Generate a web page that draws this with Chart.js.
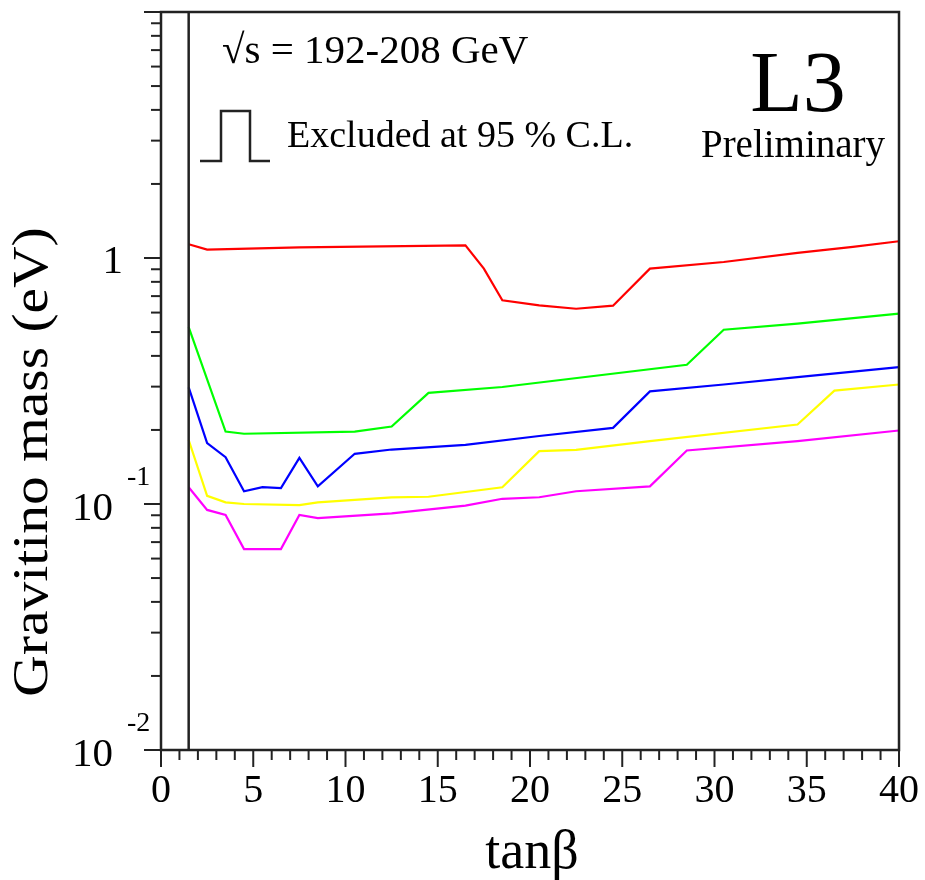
<!DOCTYPE html>
<html>
<head>
<meta charset="utf-8">
<script src="https://cdn.jsdelivr.net/npm/chart.js@4.4.1/dist/chart.umd.min.js"></script>
<style>
  html, body { margin: 0; padding: 0; background: #ffffff; }
  #wrap { width: 925px; height: 880px; }
</style>
</head>
<body>
<div id="wrap"><canvas id="c" width="925" height="880"></canvas></div>
<script>
// ---- data ----
const xTickLabels = [0, 5, 10, 15, 20, 25, 30, 35, 40];
const yDecades = [0.01, 0.1, 1];
const yDecadeLabels = [["10", "-2"], ["10", "-1"], ["1", ""]];

const tanbRed = [1.5, 2.5, 7.5, 16.5, 17.5, 18.5, 20.5, 22.5, 24.5, 26.5, 30.5, 34.5, 37.5, 40];
const massRed = [1.137, 1.082, 1.105, 1.126, 0.905, 0.673, 0.642, 0.622, 0.640, 0.905, 0.963, 1.05, 1.11, 1.17];

const tanbGreen = [1.5, 3.5, 4.5, 10.5, 12.5, 14.5, 18.5, 28.5, 30.5, 34.5, 40];
const massGreen = [0.524, 0.197, 0.193, 0.197, 0.2065, 0.283, 0.299, 0.368, 0.511, 0.541, 0.594];

const tanbBlue = [1.5, 2.5, 3.5, 4.5, 5.5, 6.5, 7.5, 8.5, 10.5, 12.5, 16.5, 20.5, 24.5, 26.5, 30.5, 34.5, 40];
const massBlue = [0.298, 0.177, 0.155, 0.1126, 0.117, 0.116, 0.154, 0.118, 0.160, 0.1665, 0.174, 0.189, 0.204, 0.287, 0.306, 0.328, 0.360];

const tanbYellow = [1.5, 2.5, 3.5, 4.5, 7.5, 8.5, 12.5, 14.5, 18.5, 20.5, 22.5, 26.5, 34.5, 36.5, 40];
const massYellow = [0.182, 0.108, 0.1016, 0.100, 0.099, 0.1016, 0.1064, 0.107, 0.117, 0.164, 0.166, 0.180, 0.2105, 0.289, 0.306];

const tanbMagenta = [1.5, 2.5, 3.5, 4.5, 6.5, 7.5, 8.5, 12.5, 16.5, 18.5, 20.5, 22.5, 26.5, 28.5, 34.5, 40];
const massMagenta = [0.117, 0.0946, 0.0902, 0.0656, 0.0656, 0.0902, 0.0877, 0.0916, 0.0985, 0.105, 0.1065, 0.1127, 0.118, 0.165, 0.180, 0.199];

const tanbLimit = 1.5;
const energyText = "\u221As = 192-208 GeV";
const legendText = "Excluded at 95 % C.L.";
const expText = "L3";
const prelimText = "Preliminary";
const xTitle = "tan\u03B2";
const yTitle = "Gravitino mass (eV)";

function pts(xs, ys) { return xs.map((x, i) => ({ x: x, y: ys[i] })); }

const FONT = '"Liberation Serif", "DejaVu Serif", serif';

const decorPlugin = {
  id: 'decor',
  beforeDraw(chart) {
    const ctx = chart.ctx;
    ctx.save();
    ctx.fillStyle = '#ffffff';
    ctx.fillRect(0, 0, chart.width, chart.height);
    ctx.restore();
  },
  afterDraw(chart) {
    const ctx = chart.ctx;
    const xs = chart.scales.x, ys = chart.scales.y;
    const a = chart.chartArea;
    ctx.save();
    ctx.strokeStyle = '#222222';
    ctx.fillStyle = '#000000';

    // frame
    ctx.lineWidth = 2.5;
    ctx.strokeRect(a.left, a.top, a.right - a.left, a.bottom - a.top);

    // vertical limit line
    const lx = xs.getPixelForValue(tanbLimit);
    ctx.beginPath(); ctx.moveTo(lx, a.top); ctx.lineTo(lx, a.bottom); ctx.stroke();

    // x ticks
    ctx.lineWidth = 2;
    for (let v = 0; v <= 40; v++) {
      const px = xs.getPixelForValue(v);
      const len = (v % 5 === 0) ? 17 : 10;
      ctx.beginPath(); ctx.moveTo(px, a.bottom); ctx.lineTo(px, a.bottom + len); ctx.stroke();
    }
    ctx.font = '40px ' + FONT;
    ctx.textAlign = 'center';
    ctx.textBaseline = 'alphabetic';
    xTickLabels.forEach(v => {
      ctx.fillText(String(v), xs.getPixelForValue(v), a.bottom + 52);
    });

    // y ticks (log)
    for (let d = -2; d <= 0; d++) {
      for (let m = 1; m <= 9; m++) {
        const val = m * Math.pow(10, d);
        const py = ys.getPixelForValue(val);
        const len = (m === 1) ? 17 : 10;
        ctx.beginPath(); ctx.moveTo(a.left, py); ctx.lineTo(a.left - len, py); ctx.stroke();
      }
    }
    const py10 = ys.getPixelForValue(10);
    ctx.beginPath(); ctx.moveTo(a.left, py10); ctx.lineTo(a.left - 17, py10); ctx.stroke();

    // y labels
    yDecades.forEach((v, i) => {
      const py = ys.getPixelForValue(v);
      const lab = yDecadeLabels[i];
      ctx.font = '41px ' + FONT;
      ctx.textAlign = 'right';
      if (lab[1] === "") {
        ctx.fillText(lab[0], 123, py + 15);
      } else {
        ctx.fillText(lab[0], 113, py + 16);
        ctx.font = '28px ' + FONT;
        ctx.textAlign = 'left';
        ctx.fillText(lab[1], 127, py - 19);
      }
    });

    // axis titles
    ctx.font = '54px ' + FONT;
    ctx.textAlign = 'center';
    ctx.fillText(xTitle, 532, 868);
    ctx.save();
    ctx.translate(47, 462);
    ctx.rotate(-Math.PI / 2);
    ctx.scale(1.15, 1);
    ctx.font = '50px ' + FONT;
    ctx.fillText(yTitle, 0, 0);
    ctx.restore();

    // energy text
    ctx.font = '41px ' + FONT;
    ctx.textAlign = 'left';
    ctx.fillText(energyText, 222, 63);

    // legend symbol
    ctx.lineWidth = 2.5;
    ctx.strokeStyle = '#222222';
    ctx.beginPath();
    ctx.moveTo(200, 161); ctx.lineTo(221, 161); ctx.lineTo(221, 111);
    ctx.lineTo(250, 111); ctx.lineTo(250, 161); ctx.lineTo(270, 161);
    ctx.stroke();
    ctx.font = '38px ' + FONT;
    ctx.fillText(legendText, 287, 147);

    // L3 Preliminary
    ctx.textAlign = 'center';
    ctx.font = '86px ' + FONT;
    ctx.fillText(expText, 798, 111);
    ctx.font = '39px ' + FONT;
    ctx.fillText(prelimText, 793, 157);

    ctx.restore();
  }
};

const ds = (label, xs, ys, color) => ({
  label: label,
  data: pts(xs, ys),
  borderColor: color,
  backgroundColor: color,
  borderWidth: 2.2,
  pointRadius: 0,
  tension: 0,
  fill: false
});

new Chart(document.getElementById('c'), {
  type: 'line',
  data: {
    datasets: [
      ds('red', tanbRed, massRed, '#ff0000'),
      ds('green', tanbGreen, massGreen, '#00ff00'),
      ds('blue', tanbBlue, massBlue, '#0000ff'),
      ds('yellow', tanbYellow, massYellow, '#ffff00'),
      ds('magenta', tanbMagenta, massMagenta, '#ff00ff')
    ]
  },
  options: {
    responsive: false,
    animation: false,
    devicePixelRatio: 1,
    layout: { padding: { left: 161, right: 26, top: 12, bottom: 130 } },
    plugins: { legend: { display: false }, tooltip: { enabled: false } },
    scales: {
      x: { type: 'linear', min: 0, max: 40, display: false },
      y: { type: 'logarithmic', min: 0.01, max: 10, display: false }
    }
  },
  plugins: [decorPlugin]
});
</script>
</body>
</html>
